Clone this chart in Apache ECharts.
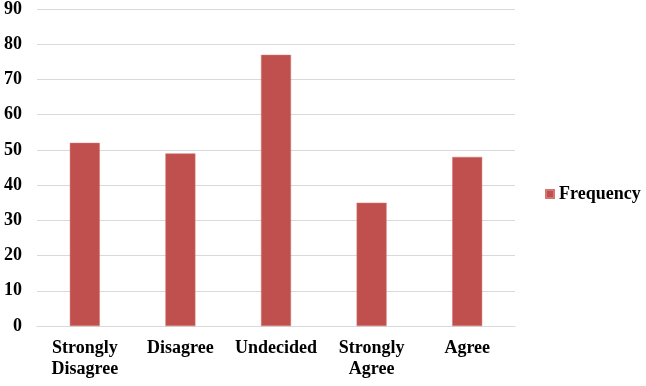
<!DOCTYPE html>
<html><head><meta charset="utf-8">
<script src="https://cdn.jsdelivr.net/npm/echarts@6/dist/echarts.min.js"></script>
<style>html,body{margin:0;padding:0;background:#fff}#c{width:646px;height:386px}</style>
</head><body><div id="c"></div>
<script>
const categories = ['Strongly\nDisagree', 'Disagree', 'Undecided', 'Strongly\nAgree', 'Agree'];
const frequency = [52, 49, 77, 35, 48];
const seriesName = 'Frequency';

const chart = echarts.init(document.getElementById('c'), null, {renderer: 'canvas'});
const font = '"Liberation Serif","Times New Roman",serif';
chart.setOption({
  animation: false,
  grid: {left: 37, right: 131, top: 8, bottom: 60},
  legend: {
    data: [seriesName], left: 540, top: 180, itemWidth: 8, itemHeight: 8, itemGap: 5,
    icon: 'rect',
    textStyle: {fontFamily: font, fontWeight: 'bold', fontSize: 18, color: '#000'}
  },
  xAxis: {
    type: 'category', data: categories,
    axisLine: {show: true, lineStyle: {color: '#d9d9d9'}},
    axisTick: {show: false},
    axisLabel: {fontFamily: font, fontWeight: 'bold', fontSize: 18, color: '#000', margin: 12, lineHeight: 21, interval: 0}
  },
  yAxis: {
    type: 'value', min: 0, max: 90, interval: 10,
    axisLine: {show: false}, axisTick: {show: false},
    splitLine: {lineStyle: {color: '#d9d9d9'}},
    axisLabel: {fontFamily: font, fontWeight: 'bold', fontSize: 18, color: '#000', margin: 15}
  },
  series: [{
    name: seriesName, type: 'bar', data: frequency, barWidth: 30,
    itemStyle: {color: '#C0504D', borderColor: '#D27874', borderWidth: 0.5}
  }]
});
</script></body></html>
